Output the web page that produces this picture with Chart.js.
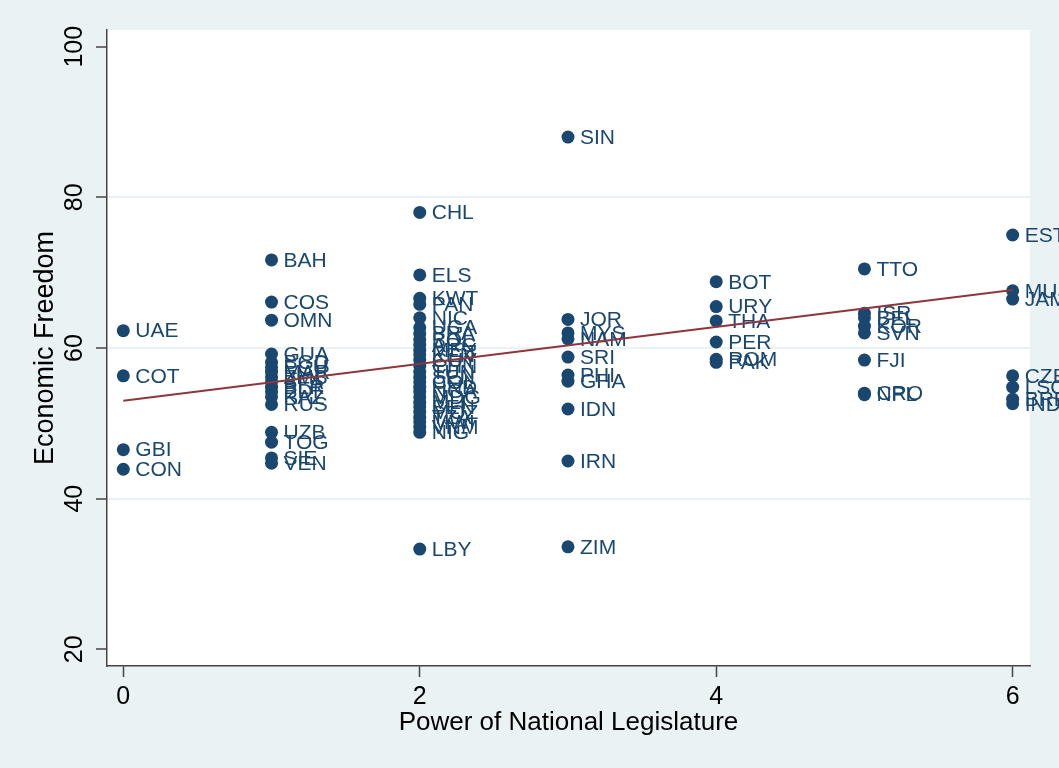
<!DOCTYPE html>
<html>
<head>
<meta charset="utf-8">
<script src="https://cdn.jsdelivr.net/npm/chart.js@4.4.1/dist/chart.umd.min.js"></script>
<style>
  html, body { margin: 0; padding: 0; background: #eaf2f3; }
  #c { display: block; }
</style>
</head>
<body>
<canvas id="c" width="1059" height="768"></canvas>
<script>
// Power of the national legislature (0-6) per country
const legPower = [
  0, 0, 0, 0,
  1, 1, 1, 1, 1, 1, 1, 1, 1, 1, 1, 1, 1, 1, 1, 1, 1,
  2, 2, 2, 2, 2, 2, 2, 2, 2, 2, 2, 2, 2, 2, 2, 2, 2, 2, 2, 2, 2, 2, 2, 2, 2, 2, 2,
  3, 3, 3, 3, 3, 3, 3, 3, 3, 3,
  4, 4, 4, 4, 4, 4,
  5, 5, 5, 5, 5, 5, 5, 5,
  6, 6, 6, 6, 6, 6, 6
];
// Economic freedom score per country
const econFreedom = [
  62.3, 56.3, 46.5, 43.9,
  71.7, 66.1, 63.7, 59.2, 58.1, 57.4, 56.8, 56.1, 55.5, 54.8, 54.2, 53.5, 52.5, 48.8, 47.5, 45.4, 44.7,
  78.0, 69.7, 66.6, 65.8, 64.0, 62.7, 61.9, 61.1, 60.4, 59.7, 59.1, 58.4, 57.6, 56.8, 56.1, 55.5, 54.8, 54.2, 53.5, 52.8, 52.2, 51.5, 50.8, 50.2, 49.5, 48.8, 33.3,
  88.0, 63.8, 62.0, 61.2, 58.8, 56.4, 55.6, 51.9, 45.0, 33.6,
  68.8, 65.5, 63.6, 60.8, 58.5, 58.1,
  70.5, 64.6, 64.0, 62.9, 62.0, 58.4, 54.0, 53.8,
  75.0, 67.6, 66.5, 56.3, 54.8, 53.2, 52.6
];
// Country codes used as marker labels
const countryCodes = [
  'UAE', 'COT', 'GBI', 'CON',
  'BAH', 'COS', 'OMN', 'GUA', 'BGD', 'ECU', 'MAR', 'ZMB', 'BFA', 'BLR', 'BDI', 'KAZ', 'RUS', 'UZB', 'TOG', 'SIE', 'VEN',
  'CHL', 'ELS', 'KWT', 'PAN', 'NIC', 'UGA', 'BRA', 'BOL', 'ARG', 'MEX', 'KEN', 'GUY', 'CHN', 'TUN', 'SEN', 'COL', 'HND', 'NGA', 'MDG', 'MLI', 'BEN', 'MOZ', 'TZA', 'MWI', 'VNM', 'NIG', 'LBY',
  'SIN', 'JOR', 'MYS', 'NAM', 'SRI', 'PHI', 'GHA', 'IDN', 'IRN', 'ZIM',
  'BOT', 'URY', 'THA', 'PER', 'ROM', 'PAK',
  'TTO', 'ISR', 'BEL', 'KOR', 'SVN', 'FJI', 'CRO', 'NPL',
  'EST', 'MUS', 'JAM', 'CZE', 'LSO', 'BRB', 'IND'
];
// Linear fit line endpoints
const fitX = [0, 6];
const fitY = [53.0, 67.7];
// Axis ticks
const xTickValues = [0, 2, 4, 6];
const yTickValues = [20, 40, 60, 80, 100];
const yGridValues = [40, 60, 80];

const NAVY = '#1a476f';
const MAROON = '#90353b';
const BG = '#eaf2f3';
const AXIS = '#444444';
const FONT = '"Liberation Sans", Arial, Helvetica, sans-serif';

Chart.defaults.font.family = FONT;

const backgroundPlugin = {
  id: 'regionBackground',
  beforeDraw(chart) {
    const { ctx, chartArea: a } = chart;
    ctx.save();
    ctx.fillStyle = BG;
    ctx.fillRect(0, 0, chart.width, chart.height);
    ctx.fillStyle = '#ffffff';
    ctx.fillRect(a.left, a.top, a.right - a.left, a.bottom - a.top);
    ctx.restore();
  }
};

const markerLabelPlugin = {
  id: 'markerLabels',
  afterDatasetDraw(chart, args) {
    if (args.index !== 1) return;
    const ctx = chart.ctx;
    ctx.save();
    ctx.font = '21px ' + FONT;
    ctx.fillStyle = NAVY;
    ctx.textAlign = 'left';
    ctx.textBaseline = 'middle';
    args.meta.data.forEach((pt, i) => {
      ctx.fillText(countryCodes[i], pt.x + 12, pt.y + 1);
    });
    ctx.restore();
  }
};

new Chart(document.getElementById('c'), {
  type: 'scatter',
  data: {
    datasets: [
      {
        label: 'Fitted values',
        data: fitX.map((x, i) => ({ x: x, y: fitY[i] })),
        showLine: true,
        borderColor: MAROON,
        borderWidth: 2,
        pointRadius: 0,
        fill: false
      },
      {
        label: 'Economic Freedom',
        data: legPower.map((x, i) => ({ x: x, y: econFreedom[i] })),
        backgroundColor: NAVY,
        borderWidth: 0,
        pointRadius: 6.5,
        pointHoverRadius: 6.5
      }
    ]
  },
  options: {
    responsive: false,
    animation: false,
    devicePixelRatio: 1,
    layout: { padding: { top: 30, right: 29, left: 0, bottom: 0 } },
    plugins: {
      legend: { display: false },
      tooltip: { enabled: false }
    },
    scales: {
      x: {
        type: 'linear',
        min: -0.11,
        max: 6.117,
        afterBuildTicks: s => { s.ticks = xTickValues.map(v => ({ value: v })); },
        afterFit: s => { s.height = 102; },
        grid: {
          drawOnChartArea: false,
          drawTicks: true,
          tickLength: 11,
          tickColor: AXIS,
          tickWidth: 1.5
        },
        border: { display: true, color: AXIS, width: 1.5 },
        ticks: {
          color: '#000',
          font: { size: 25 },
          padding: 5,
          maxRotation: 0,
          minRotation: 0
        },
        title: {
          display: true,
          text: 'Power of National Legislature',
          color: '#000',
          font: { size: 26 },
          padding: { top: 0, bottom: 30 }
        }
      },
      y: {
        type: 'linear',
        min: 17.78,
        max: 102.22,
        afterBuildTicks: s => { s.ticks = yTickValues.map(v => ({ value: v })); },
        afterFit: s => { s.width = 107; },
        grid: {
          color: c => (c.tick && yGridValues.includes(c.tick.value)) ? BG : 'rgba(0,0,0,0)',
          lineWidth: 2,
          drawTicks: true,
          tickLength: 11,
          tickColor: AXIS,
          tickWidth: 1.5
        },
        border: { display: true, color: AXIS, width: 1.5 },
        ticks: {
          color: '#000',
          font: { size: 25 },
          minRotation: 90,
          maxRotation: 90,
          crossAlign: 'center',
          padding: 0
        },
        title: {
          display: true,
          text: 'Economic Freedom',
          color: '#000',
          font: { size: 27 },
          padding: { top: 29, bottom: 0 }
        }
      }
    }
  },
  plugins: [backgroundPlugin, markerLabelPlugin]
});
</script>
</body>
</html>
